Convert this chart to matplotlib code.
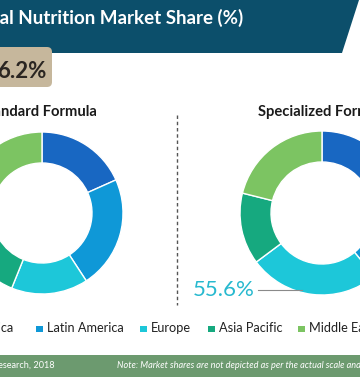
"""Regional nutrition market share donuts (cropped infographic)."""
import matplotlib
matplotlib.use("Agg")
import matplotlib.pyplot as plt
from matplotlib.patches import Polygon, FancyBboxPatch, Rectangle

plt.rcParams["font.family"] = ["Lato", "DejaVu Sans"]

regions = ["North America", "Latin America", "Europe", "Asia Pacific", "Middle East & Africa"]
colors = ["#1867c2", "#0f98d7", "#1dc7d9", "#16a97f", "#7cc462"]
standard_share = [18.3, 22.5, 15.3, 21.0, 22.9]
specialized_share = [19.4, 19.6, 25.8, 14.1, 21.1]
panel_titles = ["Standard Formula", "Specialized Formula"]
title = "Global Nutrition Market Share (%)"
top_value = "6.2%"
europe_value = "55.6%"

W, H = 360, 377


def Y(p):
    # pixel row (from top) -> data y
    return H - p


fig = plt.figure(figsize=(W / 100, H / 100), dpi=100)
ax = fig.add_axes([0, 0, 1, 1])

# title banner
ax.add_patch(Polygon([(-5, Y(0)), (359, Y(0)), (342, Y(53)), (-5, Y(53))],
                     closed=True, color="#0c4f6b", lw=0))
ax.text(243, Y(18), title, color="white", fontsize=13.5, fontweight="bold",
        ha="right", va="center")

# value tag
ax.add_patch(FancyBboxPatch((-20, Y(87)), 72, 40, boxstyle="round,pad=0,rounding_size=5",
                            color="#c6b79c", lw=0))
ax.text(47, Y(71), top_value, color="#2b2622", fontsize=16, fontweight="bold",
        ha="right", va="center")

# donuts
centers = [(42, Y(213)), (322, Y(213))]
radii = [81, 82]
for share, c, r in zip([standard_share, specialized_share], centers, radii):
    ax.pie(share, colors=colors, startangle=90, counterclock=False, center=c,
           radius=r, wedgeprops=dict(width=31, edgecolor="white", linewidth=1.0))

ax.text(97, Y(112), panel_titles[0], fontsize=10.6, fontweight="bold", ha="right",
        va="center", color="#1a1a1a")
ax.text(258, Y(112), panel_titles[1], fontsize=10.6, fontweight="bold", ha="left",
        va="center", color="#1a1a1a")

# separator
ax.plot([177, 177], [Y(115), Y(305)], color="#555555", lw=1, ls=(0, (2.5, 2)))

# callout for Europe in specialized formula
ax.plot([258, 302], [Y(290), Y(290)], color="#8a8a8a", lw=0.8)
ax.text(255, Y(290), europe_value, color="#27b9cf", fontsize=16, ha="right", va="center")

# legend
leg_x = [-80, 36, 140, 208, 298]
for x, lab, col in zip(leg_x, regions, colors):
    ax.add_patch(Rectangle((x, Y(332)), 6.5, 6.5, color=col, lw=0))
    ax.text(x + 11, Y(328), lab, fontsize=9.2, ha="left", va="center", color="#222222")

# footer
ax.add_patch(Rectangle((-5, Y(377)), W + 10, 22, color="#6c9a6f", lw=0))
ax.text(55, Y(366), "Source: Transparency Market Research, 2018", color="white",
        fontsize=6.6, ha="right", va="center")
ax.text(117, Y(366), "Note: Market shares are not depicted as per the actual scale and are for representation only",
        color="white", fontsize=6.6, style="italic", ha="left", va="center")

ax.set_xlim(0, W)
ax.set_ylim(0, H)
ax.set_aspect("auto")
ax.axis("off")

fig.savefig("out.png", dpi=100)
